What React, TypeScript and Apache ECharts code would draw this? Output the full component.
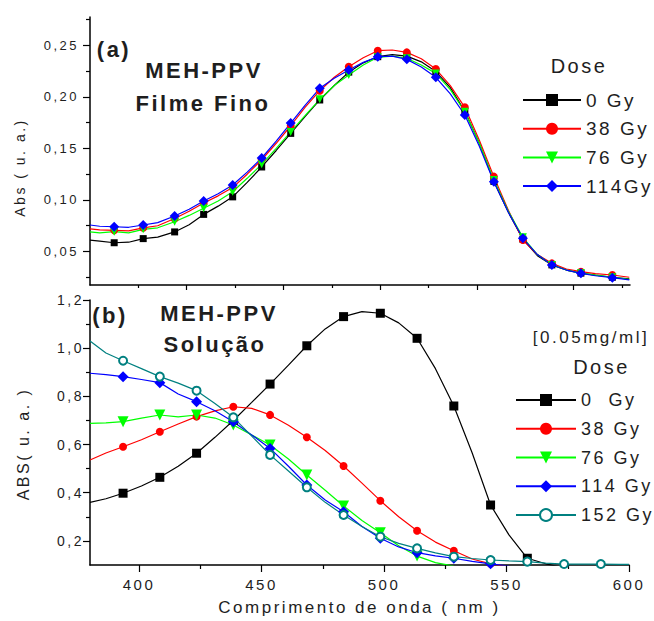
import React, { useEffect, useRef } from "react";
import * as echarts from "echarts";

// ---------- Panel (a): thin film ----------
const topWavelength = [380, 384, 390, 396, 402, 408, 415, 421, 427, 433, 439, 445, 451, 457, 463, 469, 475, 481, 487, 493, 499, 505, 511, 517, 523, 529, 535, 541, 547, 553, 559, 565, 571, 577, 583, 589, 596, 603];
const filmDose0 = [0.061, 0.06, 0.0585, 0.059, 0.0625, 0.064, 0.069, 0.076, 0.086, 0.094, 0.103, 0.117, 0.132, 0.148, 0.1646, 0.181, 0.197, 0.211, 0.224, 0.233, 0.239, 0.241, 0.2395, 0.234, 0.2246, 0.209, 0.186, 0.155, 0.118, 0.088, 0.062, 0.046, 0.037, 0.032, 0.029, 0.027, 0.025, 0.0235];
const filmDose38 = [0.072, 0.071, 0.0705, 0.07, 0.073, 0.075, 0.082, 0.089, 0.097, 0.104, 0.112, 0.125, 0.139, 0.155, 0.172, 0.19, 0.206, 0.219, 0.2293, 0.238, 0.2448, 0.2455, 0.2432, 0.237, 0.227, 0.211, 0.1899, 0.158, 0.1226, 0.09, 0.0612, 0.047, 0.0385, 0.033, 0.0304, 0.0285, 0.0272, 0.025];
const filmDose76 = [0.069, 0.068, 0.0692, 0.068, 0.0715, 0.073, 0.0789, 0.085, 0.0919, 0.099, 0.108, 0.121, 0.1346, 0.15, 0.166, 0.182, 0.1976, 0.211, 0.2212, 0.231, 0.2384, 0.2395, 0.2375, 0.231, 0.2228, 0.207, 0.1856, 0.155, 0.1194, 0.089, 0.0638, 0.047, 0.037, 0.032, 0.029, 0.027, 0.025, 0.023];
const filmDose114 = [0.0757, 0.0745, 0.074, 0.0735, 0.0757, 0.078, 0.0844, 0.091, 0.099, 0.106, 0.1145, 0.127, 0.1407, 0.157, 0.1746, 0.192, 0.2083, 0.218, 0.226, 0.2335, 0.239, 0.2395, 0.2364, 0.229, 0.219, 0.203, 0.1824, 0.152, 0.1177, 0.088, 0.0628, 0.047, 0.0369, 0.032, 0.0288, 0.0265, 0.0246, 0.0225];
const filmLegend = ["0 Gy", "38 Gy", "76 Gy", "114Gy"];

// ---------- Panel (b): solution ----------
const botWavelength = [380, 386.5, 393.5, 401, 408.5, 416, 423.5, 431, 438.5, 446, 453.5, 461, 468.5, 476, 483.5, 491, 498.5, 506, 513.5, 521, 528.5, 536, 543.5, 551, 558.5, 566, 573.5, 581, 588.5, 596, 600];
const solDose0 = [0.36, 0.375, 0.398, 0.428, 0.464, 0.51, 0.564, 0.63, 0.7, 0.775, 0.851, 0.93, 1.01, 1.08, 1.131, 1.152, 1.145, 1.105, 1.041, 0.915, 0.76, 0.565, 0.349, 0.225, 0.128, 0.105, 0.088, null, null, null, null];
const solDose38 = [0.536, 0.565, 0.591, 0.62, 0.653, 0.685, 0.716, 0.74, 0.757, 0.75, 0.723, 0.68, 0.63, 0.575, 0.511, 0.44, 0.367, 0.3, 0.2424, 0.195, 0.159, 0.125, 0.105, 0.092, null, null, null, null, null, null, null];
const solDose76 = [0.688, 0.69, 0.695, 0.71, 0.7227, 0.715, 0.7227, 0.71, 0.681, 0.64, 0.598, 0.54, 0.4736, 0.41, 0.345, 0.285, 0.234, 0.18, 0.137, 0.11, 0.095, null, null, null, null, null, null, null, null, null, null];
const solDose114 = [0.896, 0.89, 0.8816, 0.87, 0.857, 0.81, 0.778, 0.74, 0.695, 0.64, 0.584, 0.51, 0.432, 0.37, 0.321, 0.26, 0.211, 0.175, 0.151, 0.138, 0.128, 0.115, 0.105, 0.095, null, null, null, null, null, null, null];
const solDose152 = [1.03, 0.98, 0.948, 0.915, 0.882, 0.855, 0.8236, 0.77, 0.713, 0.635, 0.557, 0.49, 0.4225, 0.36, 0.3076, 0.26, 0.2175, 0.19, 0.169, 0.15, 0.1345, 0.127, 0.1207, 0.117, 0.114, 0.108, 0.104, 0.104, 0.104, 0.103, 0.103];
const solLegend = ["0  Gy", "38 Gy", "76 Gy", "114 Gy", "152 Gy"];

// ---------- Tick values ----------
const topXMajor = [420, 460, 500, 540, 580];
const topXMinor = [400, 440, 480, 520, 560, 600];
const topYMajor = [0.05, 0.1, 0.15, 0.2, 0.25];
const topYMinor = [0.025, 0.075, 0.125, 0.175, 0.225, 0.275];
const botXMajor = [400, 450, 500, 550, 600];
const botXMinor = [425, 475, 525, 575];
const botYMajor = [0.2, 0.4, 0.6, 0.8, 1.0, 1.2];
const botYMinor = [0.3, 0.5, 0.7, 0.9, 1.1];

const FONT = "'Liberation Sans', Arial, sans-serif";
const TXT = "#1e1e1e";

function toPairs(xs: number[], ys: (number | null)[]) {
  return xs.map((x, i) => (ys[i] == null ? null : [x, ys[i] as number])).filter((d) => d !== null) as number[][];
}

function mkSeries(
  name: string,
  xs: number[],
  ys: (number | null)[],
  color: string,
  symbol: string,
  size: number,
  axis: number,
  lastMarker: number,
  rotate = 0
) {
  return {
    type: "line",
    name,
    xAxisIndex: axis,
    yAxisIndex: axis,
    data: toPairs(xs, ys),
    symbol,
    symbolRotate: rotate,
    symbolSize: (v: number[], p: any) =>
      p.dataIndex >= 2 && p.dataIndex % 2 === 0 && p.dataIndex <= lastMarker && v[1] >= (axis === 0 ? 0.0175 : 0.1) ? size : 0,
    showSymbol: true,
    showAllSymbol: true,
    lineStyle: { color, width: 1.2 },
    itemStyle: { color, borderWidth: symbol === "emptyCircle" ? 1.2 : 0 },
    emphasis: { disabled: true },
    clip: true,
  };
}

function axisBase() {
  return {
    type: "value",
    splitLine: { show: false },
    axisLine: { show: true, onZero: false, lineStyle: { color: "#000", width: 1.5 } },
  };
}

export default function App() {
  const ref = useRef<HTMLDivElement>(null);
  useEffect(() => {
    if (!ref.current) return;
    const chart = echarts.init(ref.current, undefined, { renderer: "svg" });
    const topGrid = { left: 90, top: 17, width: 540, height: 268 };
    const botGrid = { left: 90, top: 300, width: 539, height: 265 };
    const labelTxt = { color: TXT, fontFamily: FONT };
    const option: any = {
      animation: false,
      backgroundColor: "#fff",
      grid: [topGrid, botGrid],
      xAxis: [
        {
          ...axisBase(),
          gridIndex: 0,
          position: "bottom",
          min: 380,
          max: 603.3,
          axisTick: { show: true, inside: false, length: 5, lineStyle: { color: "#000", width: 1.2 }, customValues: topXMajor },
          axisLabel: { show: false },
        },
        {
          type: "value",
          gridIndex: 0,
          position: "bottom",
          min: 380,
          max: 603.3,
          splitLine: { show: false },
          axisLine: { show: false, onZero: false },
          axisTick: { show: true, inside: false, length: 3, lineStyle: { color: "#000", width: 1.2 }, customValues: topXMinor },
          axisLabel: { show: false },
        },
        {
          ...axisBase(),
          gridIndex: 1,
          position: "bottom",
          min: 380,
          max: 600,
          axisTick: { show: true, inside: false, length: 7, lineStyle: { color: "#000", width: 1.2 }, customValues: botXMajor },
          axisLabel: { show: true, margin: 12, fontSize: 15, ...labelTxt, customValues: botXMajor, formatter: (v: number) => String(Math.round(v)) },
          name: "Comprimento de onda ( nm )",
          nameLocation: "middle",
          nameGap: 34,
          nameTextStyle: { fontSize: 17, ...labelTxt },
        },
        {
          type: "value",
          gridIndex: 1,
          position: "bottom",
          min: 380,
          max: 600,
          splitLine: { show: false },
          axisLine: { show: false, onZero: false },
          axisTick: { show: true, inside: false, length: 4, lineStyle: { color: "#000", width: 1.2 }, customValues: botXMinor },
          axisLabel: { show: false },
        },
      ],
      yAxis: [
        {
          ...axisBase(),
          gridIndex: 0,
          position: "left",
          min: 0.0175,
          max: 0.2775,
          axisTick: { show: true, inside: false, length: 7, lineStyle: { color: "#000", width: 1.2 }, customValues: topYMajor },
          axisLabel: { show: true, margin: 11, fontSize: 13, ...labelTxt, customValues: topYMajor, formatter: (v: number) => v.toFixed(2).replace(".", ",") },
        },
        {
          type: "value",
          gridIndex: 0,
          position: "left",
          min: 0.0175,
          max: 0.2775,
          splitLine: { show: false },
          axisLine: { show: false, onZero: false },
          axisTick: { show: true, inside: false, length: 4, lineStyle: { color: "#000", width: 1.2 }, customValues: topYMinor },
          axisLabel: { show: false },
        },
        {
          ...axisBase(),
          gridIndex: 1,
          position: "left",
          min: 0.1,
          max: 1.2,
          axisTick: { show: true, inside: false, length: 7, lineStyle: { color: "#000", width: 1.2 }, customValues: botYMajor },
          axisLabel: { show: true, margin: 6, fontSize: 14, ...labelTxt, customValues: botYMajor, formatter: (v: number) => v.toFixed(1).replace(".", ",") },
        },
        {
          type: "value",
          gridIndex: 1,
          position: "left",
          min: 0.1,
          max: 1.2,
          splitLine: { show: false },
          axisLine: { show: false, onZero: false },
          axisTick: { show: true, inside: false, length: 4, lineStyle: { color: "#000", width: 1.2 }, customValues: botYMinor },
          axisLabel: { show: false },
        },
      ],
      legend: [
        {
          data: filmLegend.map((n) => "a:" + n),
          formatter: (n: string) => n.slice(2),
          orient: "vertical",
          left: 517,
          top: 85,
          itemWidth: 58,
          itemHeight: 15,
          itemGap: 8.7,
          selectedMode: false,
          textStyle: { fontSize: 19, lineHeight: 20, ...labelTxt },
        },
        {
          data: solLegend.map((n) => "b:" + n),
          formatter: (n: string) => n.slice(2),
          orient: "vertical",
          left: 510,
          top: 385,
          itemWidth: 60,
          itemHeight: 15,
          itemGap: 8.75,
          selectedMode: false,
          textStyle: { fontSize: 18, lineHeight: 20, ...labelTxt },
        },
      ],
      series: [
        mkSeries("a:" + filmLegend[0], topWavelength, filmDose0, "#000000", "rect", 7, 0, 36),
        mkSeries("a:" + filmLegend[1], topWavelength, filmDose38, "#ff0000", "circle", 8, 0, 36),
        mkSeries("a:" + filmLegend[2], topWavelength, filmDose76, "#00ff00", "triangle", 8, 0, 36, 180),
        mkSeries("a:" + filmLegend[3], topWavelength, filmDose114, "#0000ff", "diamond", 10, 0, 36),
        mkSeries("b:" + solLegend[0], botWavelength, solDose0, "#000000", "rect", 9, 2, 28),
        mkSeries("b:" + solLegend[1], botWavelength, solDose38, "#ff0000", "circle", 8, 2, 28),
        mkSeries("b:" + solLegend[2], botWavelength, solDose76, "#00ff00", "triangle", 11, 2, 28, 180),
        mkSeries("b:" + solLegend[3], botWavelength, solDose114, "#0000ff", "diamond", 11, 2, 28),
        mkSeries("b:" + solLegend[4], botWavelength, solDose152, "#008080", "emptyCircle", 8, 2, 28),
      ],
      graphic: [
        txt("(a)", 114, 49, 22, true),
        txt("MEH-PPV", 204, 70, 22, true),
        txt("Filme Fino", 203, 103.5, 22, true),
        txt("(b)", 110, 315, 22, true),
        txt("MEH-PPV", 219, 313.5, 22, true),
        txt("Solução", 215, 344, 22, true),
        txt("Dose", 579, 65.5, 20, false),
        txt("[0.05mg/ml]", 591, 337.5, 17, false),
        txt("Dose", 601.5, 366.5, 20, false),
        { ...txt("Abs ( u. a.)", 20, 167.5, 14, false), rotation: Math.PI / 2 },
        { ...txt("ABS( u. a. )", 23.5, 444, 16, false), rotation: Math.PI / 2 },
      ],
    };
    chart.setOption(option);
    return () => chart.dispose();
  }, []);
  return (
    <div
      ref={ref}
      style={{ position: "fixed", left: 0, top: 0, width: 654, height: 621, letterSpacing: "2.5px", whiteSpace: "pre", background: "#fff" }}
    />
  );
}

function txt(text: string, x: number, y: number, size: number, bold: boolean) {
  return {
    type: "text",
    x,
    y,
    silent: true,
    style: {
      text,
      fontSize: size,
      fontWeight: bold ? "bold" : "normal",
      fontFamily: FONT,
      fill: TXT,
      align: "center",
      verticalAlign: "middle",
      textAlign: "center",
      textVerticalAlign: "middle",
    },
  };
}
